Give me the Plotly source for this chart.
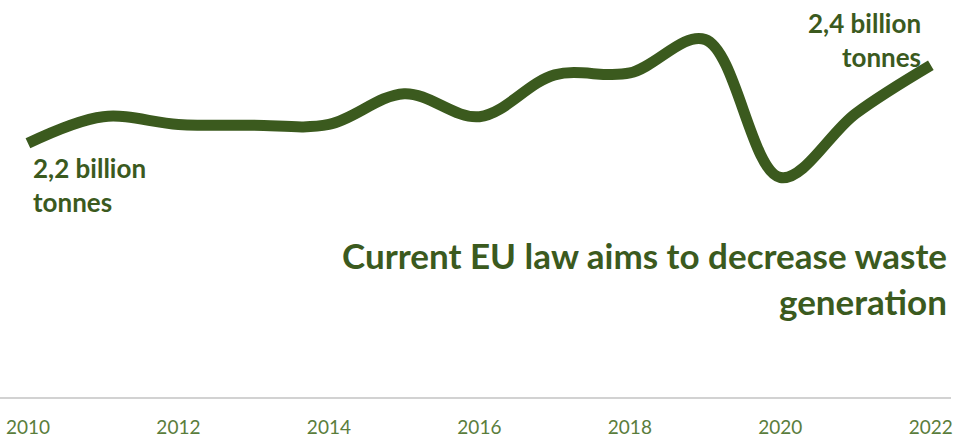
import plotly.graph_objects as go

# EU total waste generation, billion tonnes
years = [2010, 2011, 2012, 2013, 2014, 2015, 2016, 2017, 2018, 2019, 2020, 2021, 2022]
waste_bn_t = [2.20, 2.268, 2.248, 2.246, 2.248, 2.327, 2.268, 2.375, 2.38, 2.466, 2.112, 2.276, 2.40]
tick_years = [2010, 2012, 2014, 2016, 2018, 2020, 2022]

start_label = "2,2 billion<br>tonnes"
end_label = "2,4 billion<br>tonnes"
headline = "Current EU law aims to decrease waste<br>generation"

GREEN = "#3b5a1e"
TICK_GREEN = "#5a7d3c"
W, H = 953, 438
PLOT_H = 402  # plot area height in px


def py(px):
    """paper y from pixel offset below the top of the plot area"""
    return 1 - px / PLOT_H


def px_x(px):
    return px / W


fig = go.Figure()
fig.add_trace(go.Scatter(
    x=years, y=waste_bn_t, mode="lines",
    line=dict(color=GREEN, width=11, shape="spline", smoothing=1),
    hoverinfo="skip", showlegend=False,
))

annotations = [
    dict(text=start_label, x=px_x(31), y=py(187), xanchor="left", yanchor="middle",
         align="left", font=dict(family="Lato", size=26, color=GREEN, weight="bold")),
    dict(text=end_label, x=px_x(925), y=py(41), xanchor="right", yanchor="middle",
         align="right", font=dict(family="Lato", size=26, color=GREEN, weight="bold")),
    dict(text=headline, x=px_x(951), y=py(281), xanchor="right", yanchor="middle",
         align="right", font=dict(family="Lato", size=35, color=GREEN, weight="bold")),
]
for a in annotations:
    a.update(xref="paper", yref="paper", showarrow=False)

fig.update_layout(
    width=W, height=H,
    margin=dict(l=0, r=0, t=0, b=H - PLOT_H, pad=0),
    paper_bgcolor="white", plot_bgcolor="white",
    annotations=annotations,
    xaxis=dict(
        range=[2010 - 28 / 75.4, 2010 + 925 / 75.4],
        tickvals=tick_years, ticktext=[str(y) for y in tick_years],
        showgrid=False, zeroline=False,
        showline=True, linecolor="#d2d2d2", linewidth=2,
        ticks="", ticklabelstandoff=12, ticklabeloverflow="allow",
        tickfont=dict(family="Lato", size=19, color=TICK_GREEN),
        fixedrange=True,
    ),
    yaxis=dict(
        range=[2.2 - (PLOT_H - 145) / 395, 2.2 + 145 / 395],
        visible=False, fixedrange=True,
    ),
)

fig.write_html("out.html")
